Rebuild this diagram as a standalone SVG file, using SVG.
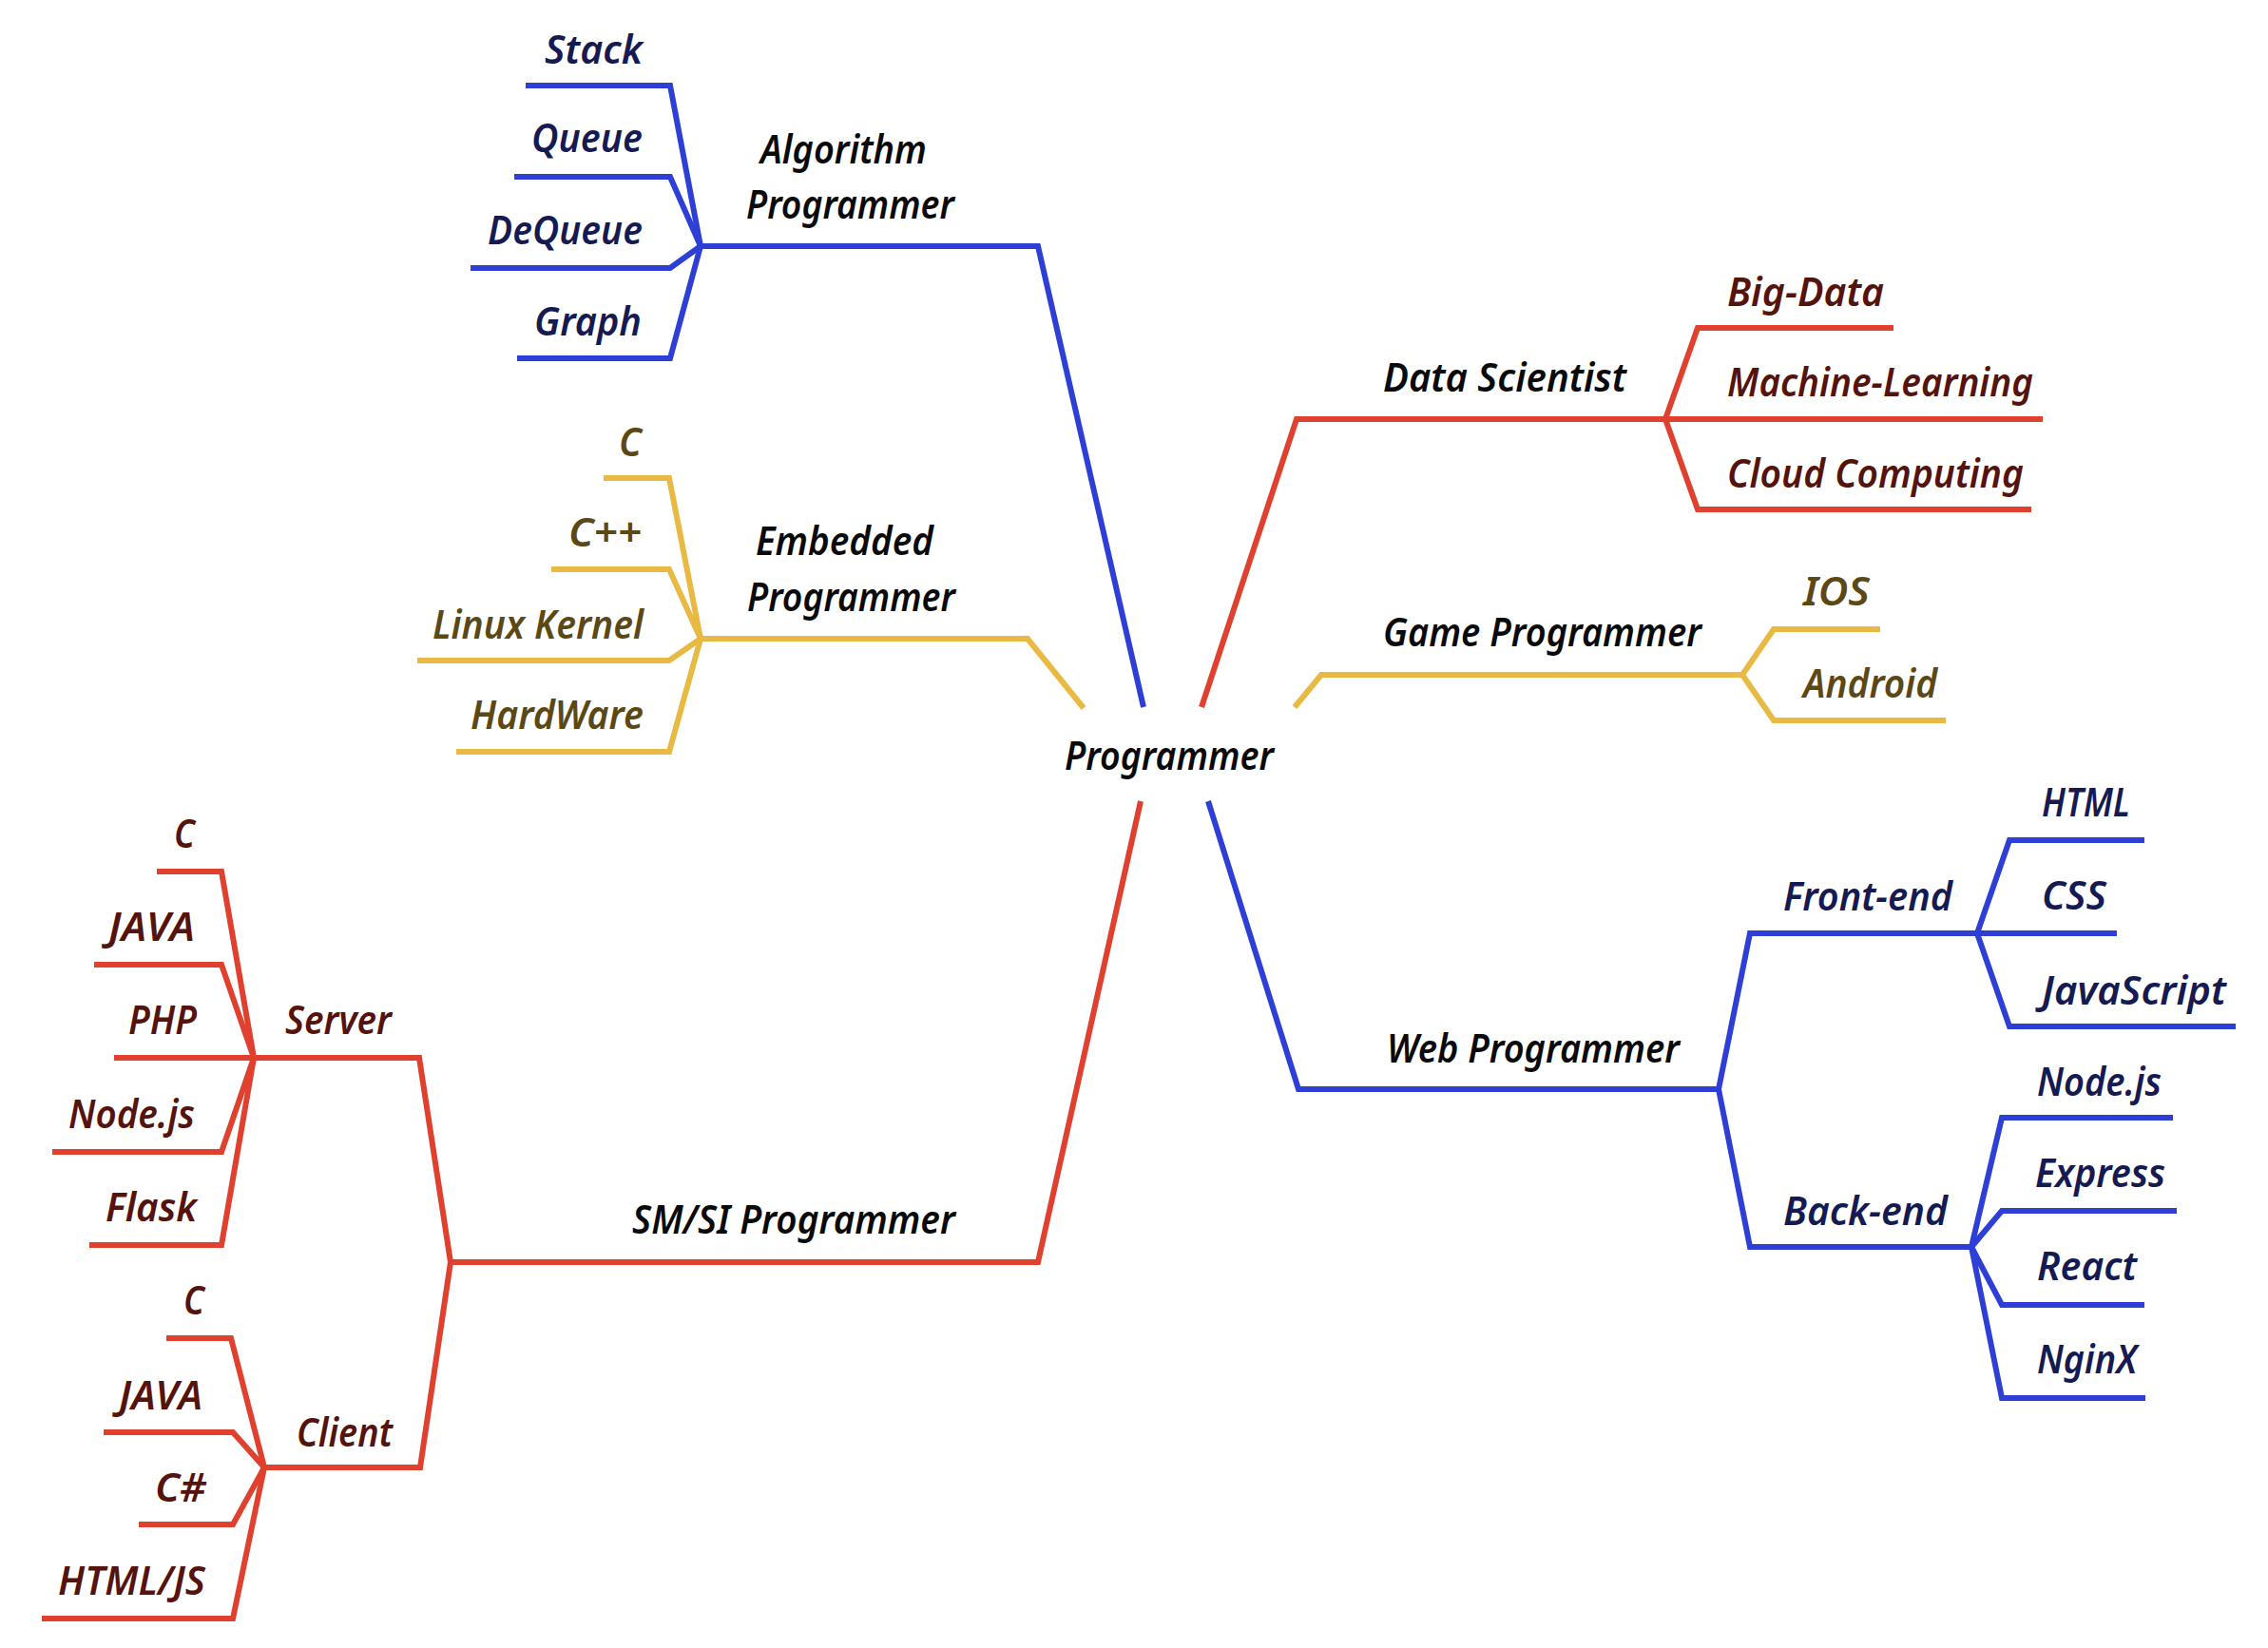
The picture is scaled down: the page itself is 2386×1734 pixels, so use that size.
<svg xmlns="http://www.w3.org/2000/svg" width="2386" height="1734" viewBox="0 0 2386 1734">
<style>
.ln{fill:none;stroke-width:6;stroke-linejoin:miter;stroke-linecap:butt}
.b{stroke:#2e3fd6}.r{stroke:#e0402e}.y{stroke:#e8b943}
text{font-family:"Noto Sans","Open Sans","DejaVu Sans",sans-serif;font-style:italic;font-weight:600;font-size:41px}
.tk{fill:#0a0a0a}.tn{fill:#161a52}.tm{fill:#55130d}.to{fill:#5c4815}
</style>
<rect width="2386" height="1734" fill="#ffffff"/>
<g id="connectors">
<g class="ln b">
<path d="M553 90 H705 L737 259"/>
<path d="M541 186 H705 L737 259"/>
<path d="M495 282 H705 L737 259"/>
<path d="M544 377 H705 L737 259"/>
<path d="M737 259 H1092 L1203 744"/>
<path d="M1271 843 L1366 1146 H1808"/>
<path d="M1808 1146 L1841 982 H2080"/>
<path d="M2080 982 L2114 884 H2256"/>
<path d="M2080 982 H2227"/>
<path d="M2080 982 L2114 1080 H2352"/>
<path d="M1808 1146 L1841 1312 H2074"/>
<path d="M2074 1312 L2106 1176 H2286"/>
<path d="M2074 1312 L2106 1274 H2290"/>
<path d="M2074 1312 L2106 1373 H2256"/>
<path d="M2074 1312 L2106 1471 H2257"/>
</g>
<g class="ln y">
<path d="M635 503 H704 L737 672"/>
<path d="M580 599 H704 L737 672"/>
<path d="M439 695 H704 L737 672"/>
<path d="M480 791 H704 L737 672"/>
<path d="M737 672 H1081 L1140 745"/>
<path d="M1362 744 L1390 710 H1833"/>
<path d="M1833 710 L1866 662 H1978"/>
<path d="M1833 710 L1866 758 H2047"/>
</g>
<g class="ln r">
<path d="M1264 744 L1364 441 H1752"/>
<path d="M1752 441 L1786 345 H1992"/>
<path d="M1752 441 H2149"/>
<path d="M1752 441 L1786 536 H2137"/>
<path d="M1200 843 L1092 1328 H474"/>
<path d="M474 1328 L441 1113 H267"/>
<path d="M267 1113 L233 917 H165"/>
<path d="M267 1113 L233 1015 H99"/>
<path d="M267 1113 H120"/>
<path d="M267 1113 L233 1212 H55"/>
<path d="M267 1113 L233 1310 H94"/>
<path d="M474 1328 L442 1544 H278"/>
<path d="M278 1544 L243 1408 H175"/>
<path d="M278 1544 L245 1507 H109"/>
<path d="M278 1544 L245 1604 H146"/>
<path d="M278 1544 L245 1703 H44"/>
</g>
</g>
<g id="node-programmer"><text class="tk" x="1120" y="810" textLength="220" lengthAdjust="spacingAndGlyphs">Programmer</text></g>
<g id="node-algorithm"><text class="tk" x="800" y="172" textLength="175" lengthAdjust="spacingAndGlyphs">Algorithm</text><text class="tk" x="785" y="230" textLength="219" lengthAdjust="spacingAndGlyphs">Programmer</text></g>
<g id="node-stack"><text class="tn" x="573" y="67" textLength="103" lengthAdjust="spacingAndGlyphs">Stack</text></g>
<g id="node-queue"><text class="tn" x="559" y="160" textLength="117" lengthAdjust="spacingAndGlyphs">Queue</text></g>
<g id="node-dequeue"><text class="tn" x="513" y="257" textLength="163" lengthAdjust="spacingAndGlyphs">DeQueue</text></g>
<g id="node-graph"><text class="tn" x="562" y="353" textLength="113" lengthAdjust="spacingAndGlyphs">Graph</text></g>
<g id="node-embedded"><text class="tk" x="795" y="584" textLength="187" lengthAdjust="spacingAndGlyphs">Embedded</text><text class="tk" x="786" y="643" textLength="219" lengthAdjust="spacingAndGlyphs">Programmer</text></g>
<g id="node-emb-c"><text class="to" x="651" y="480" textLength="24" lengthAdjust="spacingAndGlyphs">C</text></g>
<g id="node-emb-cpp"><text class="to" x="598" y="575" textLength="77" lengthAdjust="spacingAndGlyphs">C++</text></g>
<g id="node-linux"><text class="to" x="455" y="672" textLength="222" lengthAdjust="spacingAndGlyphs">Linux Kernel</text></g>
<g id="node-hardware"><text class="to" x="495" y="767" textLength="182" lengthAdjust="spacingAndGlyphs">HardWare</text></g>
<g id="node-datasci"><text class="tk" x="1455" y="412" textLength="256" lengthAdjust="spacingAndGlyphs">Data Scientist</text></g>
<g id="node-bigdata"><text class="tm" x="1817" y="322" textLength="165" lengthAdjust="spacingAndGlyphs">Big-Data</text></g>
<g id="node-ml"><text class="tm" x="1817" y="417" textLength="322" lengthAdjust="spacingAndGlyphs">Machine-Learning</text></g>
<g id="node-cloud"><text class="tm" x="1817" y="513" textLength="312" lengthAdjust="spacingAndGlyphs">Cloud Computing</text></g>
<g id="node-game"><text class="tk" x="1455" y="680" textLength="335" lengthAdjust="spacingAndGlyphs">Game Programmer</text></g>
<g id="node-ios"><text class="to" x="1897" y="637" textLength="70" lengthAdjust="spacingAndGlyphs">IOS</text></g>
<g id="node-android"><text class="to" x="1897" y="734" textLength="141" lengthAdjust="spacingAndGlyphs">Android</text></g>
<g id="node-web"><text class="tk" x="1459" y="1118" textLength="308" lengthAdjust="spacingAndGlyphs">Web Programmer</text></g>
<g id="node-frontend"><text class="tn" x="1876" y="958" textLength="178" lengthAdjust="spacingAndGlyphs">Front-end</text></g>
<g id="node-html"><text class="tn" x="2148" y="859" textLength="93" lengthAdjust="spacingAndGlyphs">HTML</text></g>
<g id="node-css"><text class="tn" x="2148" y="957" textLength="68" lengthAdjust="spacingAndGlyphs">CSS</text></g>
<g id="node-js"><text class="tn" x="2148" y="1057" textLength="194" lengthAdjust="spacingAndGlyphs">JavaScript</text></g>
<g id="node-backend"><text class="tn" x="1876" y="1289" textLength="173" lengthAdjust="spacingAndGlyphs">Back-end</text></g>
<g id="node-web-node"><text class="tn" x="2143" y="1153" textLength="131" lengthAdjust="spacingAndGlyphs">Node.js</text></g>
<g id="node-express"><text class="tn" x="2141" y="1249" textLength="137" lengthAdjust="spacingAndGlyphs">Express</text></g>
<g id="node-react"><text class="tn" x="2143" y="1347" textLength="105" lengthAdjust="spacingAndGlyphs">React</text></g>
<g id="node-nginx"><text class="tn" x="2143" y="1445" textLength="105" lengthAdjust="spacingAndGlyphs">NginX</text></g>
<g id="node-smsi"><text class="tk" x="665" y="1298" textLength="340" lengthAdjust="spacingAndGlyphs">SM/SI Programmer</text></g>
<g id="node-server"><text class="tm" x="300" y="1088" textLength="112" lengthAdjust="spacingAndGlyphs">Server</text></g>
<g id="node-srv-c"><text class="tm" x="183" y="892" textLength="22" lengthAdjust="spacingAndGlyphs">C</text></g>
<g id="node-srv-java"><text class="tm" x="114" y="990" textLength="91" lengthAdjust="spacingAndGlyphs">JAVA</text></g>
<g id="node-srv-php"><text class="tm" x="135" y="1088" textLength="72" lengthAdjust="spacingAndGlyphs">PHP</text></g>
<g id="node-srv-node"><text class="tm" x="72" y="1187" textLength="133" lengthAdjust="spacingAndGlyphs">Node.js</text></g>
<g id="node-srv-flask"><text class="tm" x="111" y="1285" textLength="96" lengthAdjust="spacingAndGlyphs">Flask</text></g>
<g id="node-client"><text class="tm" x="312" y="1522" textLength="101" lengthAdjust="spacingAndGlyphs">Client</text></g>
<g id="node-cl-c"><text class="tm" x="193" y="1383" textLength="22" lengthAdjust="spacingAndGlyphs">C</text></g>
<g id="node-cl-java"><text class="tm" x="125" y="1483" textLength="88" lengthAdjust="spacingAndGlyphs">JAVA</text></g>
<g id="node-cl-cs"><text class="tm" x="163" y="1580" textLength="54" lengthAdjust="spacingAndGlyphs">C#</text></g>
<g id="node-cl-htmljs"><text class="tm" x="61" y="1678" textLength="155" lengthAdjust="spacingAndGlyphs">HTML/JS</text></g>
</svg>
